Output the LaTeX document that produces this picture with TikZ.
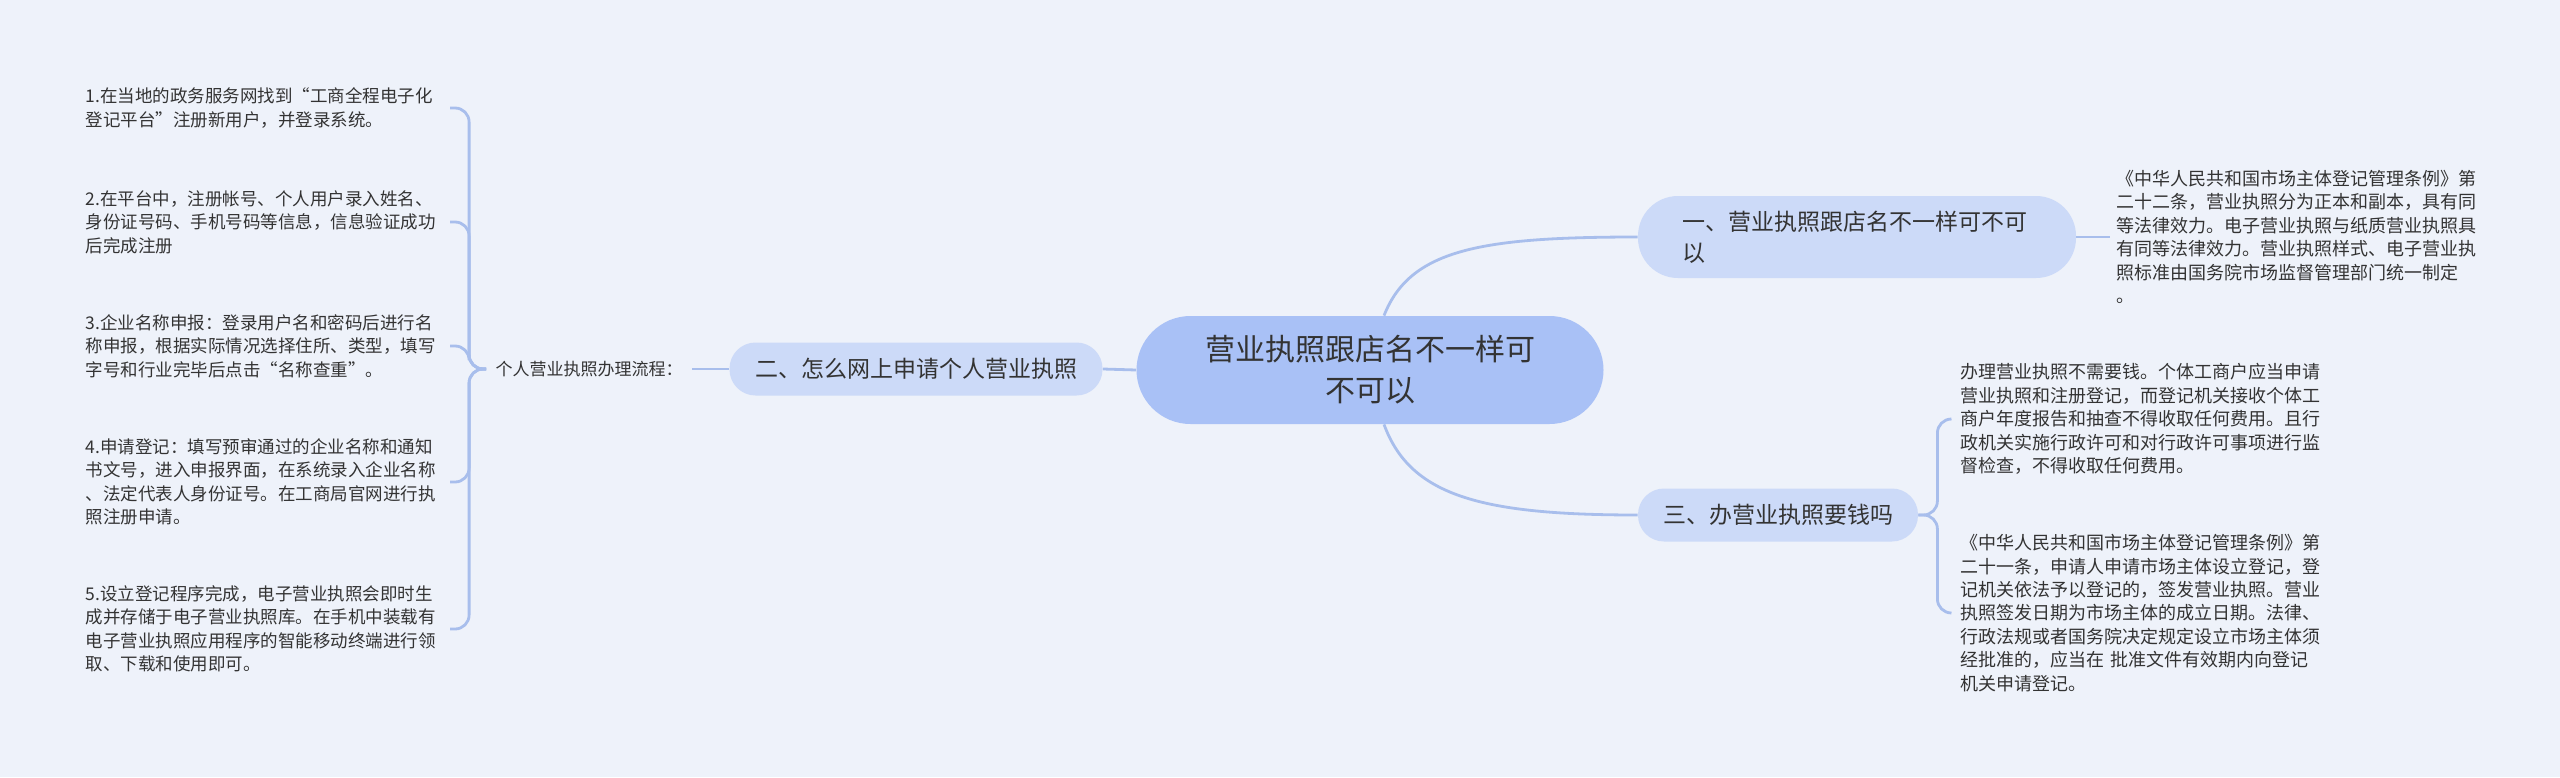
\documentclass[tikz,border=0pt]{standalone}
\usepackage{fontspec}
\setmainfont{Noto Sans CJK SC}
\usetikzlibrary{calc}
\definecolor{bg}{HTML}{EEF2FA}
\definecolor{cfill}{HTML}{A9C1F6}
\definecolor{bfill}{HTML}{CCDAF8}
\definecolor{conn}{HTML}{A8BEEC}
\definecolor{txt}{HTML}{333333}
\begin{document}
\begin{tikzpicture}[x=0.5pt,y=-0.5pt,
  every node/.style={text=txt},
  link/.style={draw=conn,line width=1.4pt},
  central/.style={fill=cfill, rounded corners=27pt, minimum width=233.5pt, minimum height=54pt, align=center, font=\fontsize{15pt}{20.5pt}\selectfont, inner sep=0pt},
  branch/.style={fill=bfill, rounded corners=13pt, minimum height=26.5pt, inner sep=0pt, font=\fontsize{11.5pt}{15.5pt}\selectfont},
  leafL/.style={text width=182pt, inner sep=0pt, align=left, font=\fontsize{8.75pt}{11.7pt}\selectfont},
  leafR/.style={text width=185pt, inner ysep=0pt, align=left, font=\fontsize{9pt}{11.7pt}\selectfont},
]
\fill[bg] (0,0) rectangle (2560,777);
\useasboundingbox (0,0) rectangle (2560,777);

% nodes
\node[central] (c) at (1370,370) {营业执照跟店名不一样可\\不可以};
\node[branch, minimum width=219pt, rounded corners=20pt, minimum height=41pt, text width=175pt, align=left, inner xsep=22pt] (n1) at (1857,237) {一、营业执照跟店名不一样可不可\\以};
\node[branch, minimum width=186.5pt] (n2) at (916,369) {二、怎么网上申请个人营业执照};
\node[branch, minimum width=140pt] (n3) at (1778,515) {三、办营业执照要钱吗};

\node[font=\fontsize{8.5pt}{10pt}\selectfont, inner xsep=4.5pt] (lab) at (589,369) {个人营业执照办理流程：};

\node[leafL, anchor=east] (l1) at (450,108) {1.在当地的政务服务网找到“工商全程电子化\\登记平台”注册新用户，并登录系统。};
\node[leafL, anchor=east] (l2) at (450,222) {2.在平台中，注册帐号、个人用户录入姓名、\\身份证号码、手机号码等信息，信息验证成功\\后完成注册};
\node[leafL, anchor=east] (l3) at (450,346) {3.企业名称申报：登录用户名和密码后进行名\\称申报，根据实际情况选择住所、类型，填写\\字号和行业完毕后点击“名称查重”。};
\node[leafL, anchor=east] (l4) at (450,482) {4.申请登记：填写预审通过的企业名称和通知\\书文号，进入申报界面，在系统录入企业名称\\、法定代表人身份证号。在工商局官网进行执\\照注册申请。};
\node[leafL, anchor=east] (l5) at (450,629) {5.设立登记程序完成，电子营业执照会即时生\\成并存储于电子营业执照库。在手机中装载有\\电子营业执照应用程序的智能移动终端进行领\\取、下载和使用即可。};

\node[leafR, anchor=west, inner xsep=3pt] (r1) at ([xshift=17pt]n1.east) {《中华人民共和国市场主体登记管理条例》第\\二十二条，营业执照分为正本和副本，具有同\\等法律效力。电子营业执照与纸质营业执照具\\有同等法律效力。营业执照样式、电子营业执\\照标准由国务院市场监督管理部门统一制定\\。};
\node[leafR, anchor=west, inner xsep=4.5pt] (r3a) at (1951,419) {办理营业执照不需要钱。个体工商户应当申请\\营业执照和注册登记，而登记机关接收个体工\\商户年度报告和抽查不得收取任何费用。且行\\政机关实施行政许可和对行政许可事项进行监\\督检查，不得收取任何费用。};
\node[leafR, anchor=west, inner xsep=4.5pt] (r3b) at (1951,613) {《中华人民共和国市场主体登记管理条例》第\\二十一条，申请人申请市场主体设立登记，登\\记机关依法予以登记的，签发营业执照。营业\\执照签发日期为市场主体的成立日期。法律、\\行政法规或者国务院决定规定设立市场主体须\\经批准的，应当在 批准文件有效期内向登记\\机关申请登记。};

% connectors
\begin{scope}[on background layer/.try]
\end{scope}
\draw[link] (c.west) -- (n2.east);
\draw[link] (n2.west) -- (lab.east);
\foreach \i in {1,...,5} \draw[link, rounded corners=7pt] (lab.west) -- ++(-17,0) |- (l\i.east);
\draw[link] ([xshift=7pt]c.north) .. controls +(26,-66) and +(-158,0) .. (n1.west);
\draw[link] ([xshift=7pt]c.south) .. controls +(26,71) and +(-158,0) .. (n3.west);
\draw[link] (n1.east) -- (r1.west);
\draw[link, rounded corners=7pt] (n3.east) -- ++(19,0) |- (r3a.west);
\draw[link, rounded corners=7pt] (n3.east) -- ++(19,0) |- (r3b.west);
\end{tikzpicture}
\end{document}
